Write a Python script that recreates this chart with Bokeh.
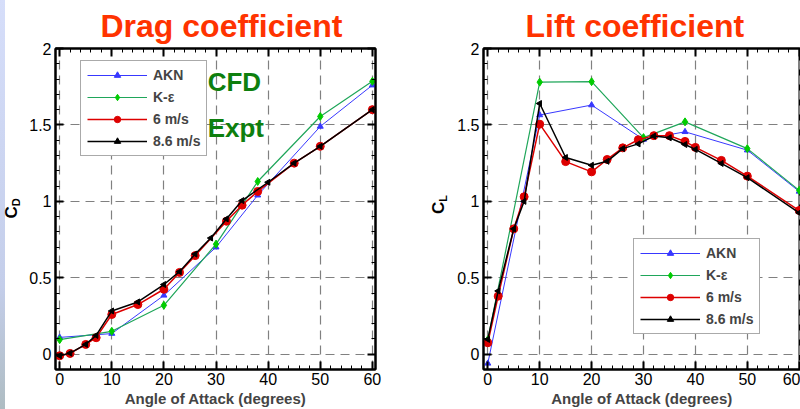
import math
from bokeh.plotting import figure
from bokeh.layouts import row
from bokeh.models import (LinearAxis, SingleIntervalTicker, Label, Legend, LegendItem,
                          CustomJSTickFormatter, Range1d, Spacer, Div)
from bokeh.embed import file_html
from bokeh.resources import INLINE

# ---------------- data ----------------
series_names = ["AKN", "K-ε", "6 m/s", "8.6 m/s"]
panel_titles = ["Drag coefficient", "Lift coefficient"]
y_label_subscripts = ["D", "L"]
x_axis_label = "Angle of Attack (degrees)"
y_ticks = [0, 0.5, 1, 1.5, 2]
y_tick_labels = ["0", "0.5", "1", "1.5", "2"]

# CFD (AKN, K-eps) angles
alpha_cfd = [0, 10, 20, 30, 38, 50, 60]
cd_akn = [0.11, 0.135, 0.385, 0.70, 1.04, 1.49, 1.76]
cd_ke = [0.095, 0.15, 0.32, 0.72, 1.13, 1.555, 1.785]
cl_akn = [-0.06, 1.565, 1.63, 1.405, 1.455, 1.335, 1.065]
cl_ke = [0.095, 1.78, 1.783, 1.417, 1.52, 1.345, 1.072]

# Experiments, drag
alpha_cd_6 = [0, 2, 5, 7, 10, 15, 20, 23, 26, 32, 35, 38, 45, 50, 60]
cd_6 = [-0.01, 0.005, 0.064, 0.108, 0.26, 0.325, 0.425, 0.535, 0.645, 0.87, 0.975,
        1.065, 1.25, 1.36, 1.60]
alpha_cd_86 = [0, 2, 5, 7, 10, 15, 20, 23, 26, 29, 32, 35, 40, 45, 50, 60]
cd_86 = [-0.01, 0.007, 0.064, 0.123, 0.283, 0.342, 0.456, 0.54, 0.655, 0.76, 0.885,
         1.005, 1.125, 1.25, 1.36, 1.60]

# Experiments, lift
alpha_cl = [0, 2, 5, 7, 10, 15, 20, 23, 26, 29, 32, 35, 38, 40, 45, 50, 60]
cl_6 = [0.075, 0.38, 0.82, 1.03, 1.505, 1.26, 1.193, 1.274, 1.35, 1.403, 1.43, 1.43,
        1.392, 1.353, 1.268, 1.165, 0.94]
cl_86 = [0.097, 0.414, 0.82, 1.0, 1.64, 1.287, 1.236, 1.262, 1.345, 1.376, 1.427,
         1.416, 1.372, 1.34, 1.248, 1.155, 0.925]

# ---------------- style ----------------
FONT = "Liberation Sans"
BLUE = "#3838FF"
GREEN_LINE = "#1FA65A"
GREEN_MK = "#00CC00"
RED = "#DD0000"
BLACK = "#000000"
TITLE_COLOR = "#FF3300"
DARK_GREEN = "#0E7F0E"
GRID = "#808080"

H = 409


def make_panel(title, title_offset, xr, width, bl, br, right_axis):
    p = figure(width=width, height=H, x_range=Range1d(*xr), y_range=Range1d(-0.1, 2.0),
               output_backend="svg", toolbar_location=None,
               min_border_left=bl, min_border_right=br, min_border_top=48,
               min_border_bottom=40, background_fill_color="white",
               border_fill_color="white", outline_line_color="black",
               outline_line_width=2)
    p.title.text = title
    p.title.text_font = FONT
    p.title.text_font_size = "32px"
    p.title.text_font_style = "bold"
    p.title.text_color = TITLE_COLOR
    p.title.align = "left"
    p.title.offset = title_offset
    p.title.standoff = 10

    xt = SingleIntervalTicker(interval=10, num_minor_ticks=5)
    yt = SingleIntervalTicker(interval=0.5, num_minor_ticks=5)
    ax = p.xaxis[0]
    ay = p.yaxis[0]
    ax.ticker = xt
    ay.ticker = yt
    ay.major_label_overrides = dict(zip(y_ticks, y_tick_labels))
    for a in (ax, ay):
        a.axis_line_width = 2
        a.axis_line_color = "black"
        a.major_tick_in = 8
        a.major_tick_out = 0
        a.minor_tick_in = 4
        a.minor_tick_out = 0
        a.major_tick_line_width = 2
        a.minor_tick_line_width = 1
        a.major_label_text_font = FONT
        a.major_label_text_font_size = "16px"
        a.major_label_text_color = "black"
    ax.major_label_standoff = 3
    ay.major_label_standoff = 4
    ay.major_label_orientation = "horizontal"
    ax.axis_label = x_axis_label
    ax.axis_label_text_font = FONT
    ax.axis_label_text_font_size = "15px"
    ax.axis_label_text_font_style = "bold"
    ax.axis_label_standoff = 2

    p.xgrid.ticker = xt
    p.ygrid.ticker = yt
    for g in (p.xgrid, p.ygrid):
        g.grid_line_color = GRID
        g.grid_line_dash = "9 6"
        g.grid_line_width = 1.2

    sides = [("above", xt)]
    if right_axis:
        sides.append(("right", yt))
    for side, tk in sides:
        a = LinearAxis(ticker=tk)
        a.formatter = CustomJSTickFormatter(code="return ''")
        a.major_label_text_font_size = "1px"
        a.major_label_standoff = 0
        a.axis_line_width = 2
        a.major_tick_in = 8
        a.major_tick_out = 0
        a.minor_tick_in = 4
        a.minor_tick_out = 0
        a.major_tick_line_width = 2
        p.add_layout(a, side)
    return p


def add_series(p, cfd_x, akn, ke, x6, y6, x86, y86):
    r1 = p.line(cfd_x, akn, line_color=BLUE, line_width=1)
    s1 = p.scatter(cfd_x, akn, marker="triangle", size=6, fill_color=BLUE, line_color=BLUE)
    r2 = p.line(cfd_x, ke, line_color=GREEN_LINE, line_width=1.2)
    s2 = p.scatter(cfd_x, ke, marker="diamond", size=8, fill_color=GREEN_MK, line_color=GREEN_MK)
    r3 = p.line(x6, y6, line_color=RED, line_width=1.5)
    s3 = p.scatter(x6, y6, marker="circle", size=8, fill_color=RED, line_color=RED)
    r4 = p.line(x86, y86, line_color=BLACK, line_width=1.5)
    s4 = p.scatter(x86, y86, marker="triangle", size=6, angle=math.pi / 2,
                   fill_color=BLACK, line_color=BLACK)
    return [LegendItem(label=series_names[0], renderers=[r1, s1]),
            LegendItem(label=series_names[1], renderers=[r2, s2]),
            LegendItem(label=series_names[2], renderers=[r3, s3]),
            LegendItem(label=series_names[3], renderers=[r4, s4])]


def add_legend(p, items, loc):
    leg = Legend(items=items, location=loc, glyph_width=60, glyph_height=16,
                 label_height=16, spacing=6, padding=6, label_standoff=6,
                 label_text_font=FONT, label_text_font_size="14px",
                 label_text_font_style="bold", border_line_color="#555555",
                 border_line_width=1, background_fill_color="white",
                 background_fill_alpha=1.0, margin=0)
    p.add_layout(leg, "center")


def ylabel_div(sub, width, pad_top):
    html = (
        f'<div style="width:{width}px;height:{H}px;display:flex;align-items:center;'
        f'justify-content:center;padding-top:{pad_top}px;box-sizing:border-box;">'
        f'<span style="display:inline-block;transform:rotate(-90deg);white-space:nowrap;'
        f"font-family:'{FONT}',Arial,sans-serif;font-weight:bold;font-size:17px;"
        f'color:#000;line-height:1;">C<sub style="font-size:11px;vertical-align:-3px;">'
        f'{sub}</sub></span></div>'
    )
    return Div(text=html, width=width, height=H, margin=0)


# ---------------- decorative slide strip ----------------
strip = Spacer(width=5, height=H,
               styles={"background": "linear-gradient(#D6DEFA, #C4CEEA 70%, #AEBCC2)"})

# ---------------- drag panel ----------------
p1 = make_panel(panel_titles[0], 45, (-0.8, 60.6), 410, 35, 55, True)
items1 = add_series(p1, alpha_cfd, cd_akn, cd_ke, alpha_cd_6, cd_6, alpha_cd_86, cd_86)
add_legend(p1, items1, (25, 213))
for txt, yy in (("CFD", 1.78), ("Expt", 1.48)):
    p1.add_layout(Label(x=28.4, y=yy, text=txt, text_baseline="middle", text_align="left",
                        text_font=FONT, text_font_size="26px", text_font_style="bold",
                        text_color=DARK_GREEN))

# ---------------- lift panel ----------------
p2 = make_panel(panel_titles[1], 42, (-0.83, 60.25), 350, 33, 0, False)
items2 = add_series(p2, alpha_cfd, cl_akn, cl_ke, alpha_cl, cl_6, alpha_cl, cl_86)
add_legend(p2, items2, (150, 35))

div_cd = ylabel_div(y_label_subscripts[0], 15, 8)
div_cl = ylabel_div(y_label_subscripts[1], 20, 0)

layout = row(strip, div_cd, p1, div_cl, p2)
open("out.html", "w").write(file_html(layout, INLINE))
